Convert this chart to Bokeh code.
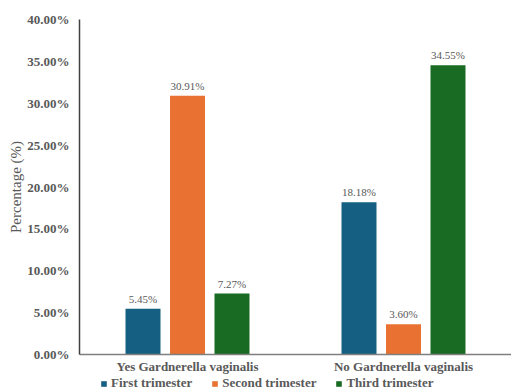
from bokeh.plotting import figure
from bokeh.models import (ColumnDataSource, FactorRange, Range1d, FixedTicker,
                          PrintfTickFormatter, Legend, LegendItem, LabelSet)
from bokeh.layouts import column
from bokeh.transform import dodge
from bokeh.embed import file_html
from bokeh.resources import INLINE

categories = ["Yes Gardnerella vaginalis", "No Gardnerella vaginalis"]
series = ["First trimester", "Second trimester", "Third trimester"]
first = [5.45, 18.18]
second = [30.91, 3.60]
third = [7.27, 34.55]
colors = ["#156082", "#E97132", "#196B24"]
y_ticks = [0, 5, 10, 15, 20, 25, 30, 35, 40]

FONT = "Liberation Serif"
GRAY = "#595959"

p = figure(x_range=FactorRange(*categories, range_padding=0),
           y_range=Range1d(0, 40), width=511, height=376,
           output_backend="svg", toolbar_location=None,
           min_border_left=79, min_border_right=0,
           min_border_top=19, min_border_bottom=22)
p.outline_line_color = None
p.xgrid.grid_line_color = None
p.ygrid.grid_line_color = None

src = ColumnDataSource(dict(cat=categories, first=first, second=second, third=third,
                            first_l=[f"{v:.2f}%" for v in first],
                            second_l=[f"{v:.2f}%" for v in second],
                            third_l=[f"{v:.2f}%" for v in third]))

offsets = [-0.206, 0.0, 0.206]
keys = ["first", "second", "third"]
for k, off, c in zip(keys, offsets, colors):
    p.vbar(x=dodge("cat", off, range=p.x_range), top=k, width=0.162,
           source=src, fill_color=c, line_color=None)
    lbl = LabelSet(x=dodge("cat", off, range=p.x_range), y=k, text=k + "_l",
                   source=src, text_align="center", text_baseline="bottom",
                   y_offset=4, text_font=FONT, text_font_size="11px",
                   text_color=GRAY)
    p.add_layout(lbl)

p.yaxis.ticker = FixedTicker(ticks=y_ticks)
p.yaxis.formatter = PrintfTickFormatter(format="%.2f%%")
p.yaxis.major_tick_line_color = None
p.yaxis.minor_tick_line_color = None
p.yaxis.major_tick_out = 0
p.yaxis.minor_tick_out = 0
p.yaxis.axis_line_color = "#404040"
p.yaxis.axis_line_width = 1.5
p.yaxis.major_label_text_font = FONT
p.yaxis.major_label_text_font_style = "bold"
p.yaxis.major_label_text_font_size = "13px"
p.yaxis.major_label_text_color = GRAY
p.yaxis.major_label_standoff = 10
p.yaxis.axis_label = "Percentage (%)"
p.yaxis.axis_label_text_font = FONT
p.yaxis.axis_label_text_font_style = "normal"
p.yaxis.axis_label_text_font_size = "15px"
p.yaxis.axis_label_text_color = GRAY
p.yaxis.axis_label_standoff = 0

p.xaxis.major_tick_line_color = None
p.xaxis.minor_tick_line_color = None
p.xaxis.major_tick_out = 0
p.xaxis.minor_tick_out = 0
p.xaxis.axis_line_color = "#7f7f7f"
p.xaxis.axis_line_width = 1.5
p.xaxis.major_label_text_font = FONT
p.xaxis.major_label_text_font_style = "bold"
p.xaxis.major_label_text_font_size = "13px"
p.xaxis.major_label_text_color = GRAY
p.xaxis.major_label_standoff = 4

# legend strip below the chart (same data, bars kept out of its view)
pl = figure(width=511, height=15, x_range=p.x_range, y_range=Range1d(100, 101),
            output_backend="svg", toolbar_location=None,
            min_border=0, min_border_left=0, min_border_right=0,
            min_border_top=0, min_border_bottom=0)
pl.axis.visible = False
pl.grid.visible = False
pl.outline_line_color = None
items = []
for s, k, off, c in zip(series, keys, offsets, colors):
    r = pl.vbar(x=dodge("cat", off, range=p.x_range), top=k, width=0.162,
                source=src, fill_color=c, line_color=None)
    items.append(LegendItem(label=s, renderers=[r], index=0))
legend = Legend(items=items, orientation="horizontal", location=(21, 0),
                label_text_font=FONT, label_text_font_style="bold",
                label_text_font_size="13px", label_text_color=GRAY,
                glyph_width=7, glyph_height=7, label_standoff=4, spacing=19,
                label_height=12, padding=0, margin=0, border_line_color=None,
                background_fill_alpha=0)
pl.add_layout(legend, "center")

open("out.html", "w").write(file_html(column(p, pl, spacing=0), INLINE))
